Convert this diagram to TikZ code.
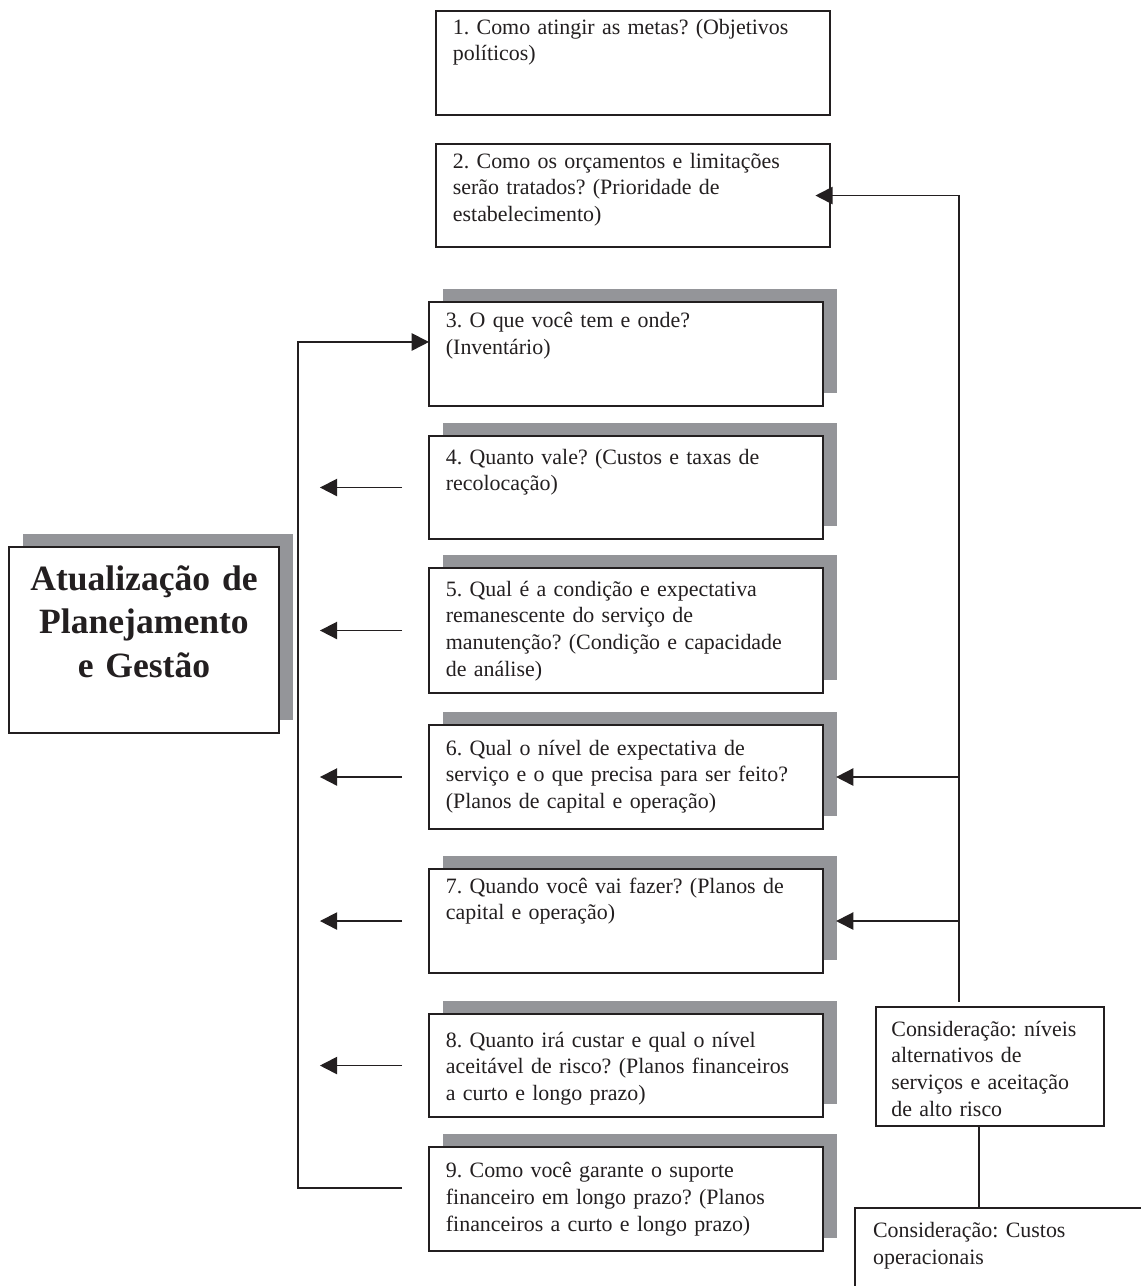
\documentclass[tikz,border=0pt]{standalone}
\usepackage{fontspec}
\setmainfont{Liberation Serif}
\usepackage{xcolor}
\usepackage{tikz}
\usetikzlibrary{arrows.meta,calc,shadows}

\definecolor{shadowgray}{RGB}{148,149,153}
\definecolor{inkgray}{RGB}{35,31,32}
\newcommand{\boxfont}{\fontsize{11.4pt}{13.9pt}\selectfont}
\newcommand{\titlefont}{\fontsize{18.5pt}{22.6pt}\selectfont\bfseries}
\frenchspacing
\hyphenpenalty=10000
\exhyphenpenalty=10000

\begin{document}
\begin{tikzpicture}[
  every node/.style={font=\boxfont,text=inkgray},
  qbox/.style 2 args={rectangle,draw=inkgray,line width=1pt,fill=white,
                      anchor=north west,outer sep=0pt,inner ysep=0pt,
                      inner xsep=8.8pt,text width=187.3pt,align=left,
                      text height=#1,text depth=#2},
  consbox/.style 2 args={rectangle,draw=inkgray,line width=1pt,fill=white,
                      anchor=north west,outer sep=0pt,inner ysep=0pt,
                      inner xsep=8pt,text width=102.6pt,align=left,
                      text height=#1,text depth=#2},
  mainbox/.style={rectangle,draw=inkgray,line width=1pt,fill=white,
                  anchor=north west,outer sep=0pt,inner ysep=0pt,
                  inner xsep=6pt,text width=128.4pt,align=center,
                  font=\titlefont,text height=22.4pt,text depth=74.3pt},
  shadowed/.style={drop shadow={shadow xshift=7.3pt,shadow yshift=6.8pt,
                   fill=shadowgray,opacity=1}},
  arr/.style ={-{Triangle[length=9pt,width=9pt]},line width=0.95pt,inkgray},
  link/.style={line width=0.95pt,inkgray},
]
\path[use as bounding box,clip] (0,0) rectangle (20.853,-23.503);

\node[qbox={12pt}{42.1pt}]            at (7.968, -0.201)  (q1)
  {1. Como atingir as metas? (Objetivos\\políticos)};
\node[qbox={12.5pt}{41.1pt}]          at (7.968, -2.632)  (q2)
  {2. Como os orçamentos e limitações\\serão tratados? (Prioridade de\\estabelecimento)};
\node[qbox={13.5pt}{40.6pt},shadowed] at (7.840, -5.519)  (q3)
  {3. O que você tem e onde?\\(Inventário)};
\node[qbox={14.6pt}{39pt},shadowed]   at (7.840, -7.968)  (q4)
  {4. Quanto vale? (Custos e taxas de\\recolocação)};
\node[qbox={14.6pt}{50.4pt},shadowed] at (7.840, -10.381) (q5)
  {5. Qual é a condição e expectativa\\remanescente do serviço de\\manutenção? (Condição e capacidade\\de análise)};
\node[qbox={15.6pt}{38.5pt},shadowed] at (7.840, -13.250) (q6)
  {6. Qual o nível de expectativa de\\serviço e o que precisa para ser feito?\\(Planos de capital e operação)};
\node[qbox={12.5pt}{41.6pt},shadowed] at (7.840, -15.882) (q7)
  {7. Quando você vai fazer? (Planos de\\capital e operação)};
\node[qbox={17.2pt}{36.4pt},shadowed] at (7.840, -18.532) (q8)
  {8. Quanto irá custar e qual o nível\\aceitável de risco? (Planos financeiros\\a curto e longo prazo)};
\node[qbox={16.1pt}{38pt},shadowed]   at (7.840, -20.963) (q9)
  {9. Como você garante o suporte\\financeiro em longo prazo? (Planos\\financeiros a curto e longo prazo)};

\node[mainbox,shadowed] at (0.164, -9.997) (main)
  {Atualização de\\Planejamento\\e Gestão};

\node[consbox={15.1pt}{46.8pt}] at (16.010, -18.404) (cons1)
  {Consideração: níveis\\alternativos de\\serviços e aceitação\\de alto risco};
\node[consbox={15.6pt}{45pt},inner xsep=9.4pt,text width=199.6pt]
  at (15.626, -22.077) (cons2)
  {Consideração: Custos\\operacionais};

\coordinate (ltop) at (5.446, -6.250);
\coordinate (lbot) at (7.347, -21.712);
\coordinate (rbot) at (17.527, -18.313);

\draw[arr] (lbot) -| (ltop) -- (ltop -| q3.west);
\draw[arr,shorten <=14pt,shorten >=11.4pt] (q4.west) -- (q4.west -| ltop);
\draw[arr,shorten <=14pt,shorten >=11.4pt] (q5.west) -- (q5.west -| ltop);
\draw[arr,shorten <=14pt,shorten >=11.4pt] (q6.west) -- (q6.west -| ltop);
\draw[arr,shorten <=14pt,shorten >=11.4pt] (q7.west) -- (q7.west -| ltop);
\draw[arr,shorten <=14pt,shorten >=11.4pt] (q8.west) -- (q8.west -| ltop);

\draw[arr,shorten >=-7.6pt] (rbot) |- (q2.east);
\draw[arr,shorten >=6.8pt] (rbot |- q6.east) -- (q6.east);
\draw[arr,shorten >=6.8pt] (rbot |- q7.east) -- (q7.east);
\draw[link] ([xshift=-5.7pt]cons1.south) -- ([xshift=-5.7pt]cons1.south |- cons2.north);
\end{tikzpicture}
\end{document}
